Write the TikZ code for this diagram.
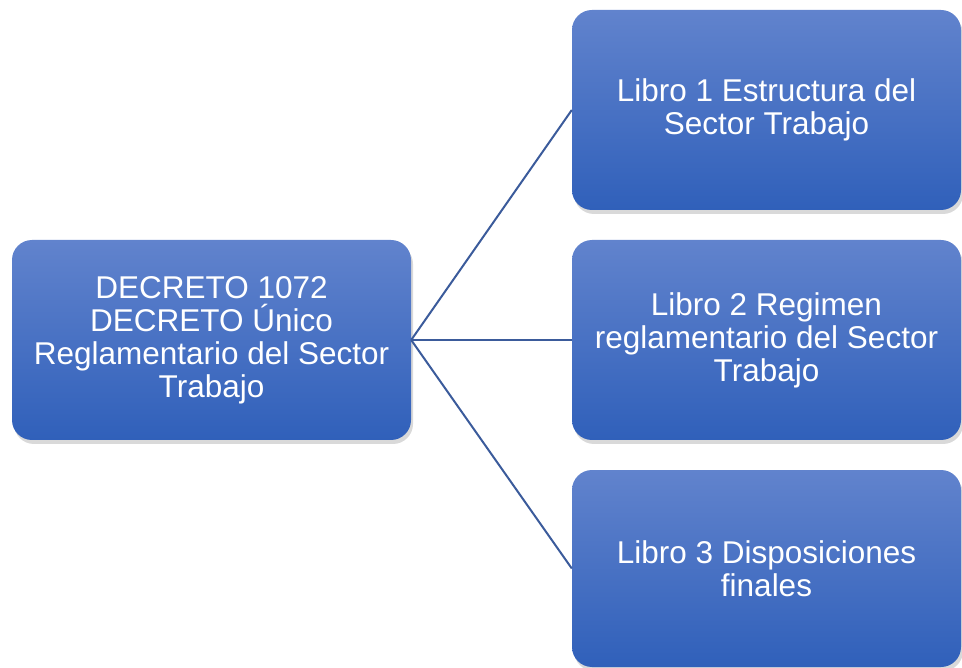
\documentclass[tikz,border=0pt]{standalone}
\usepackage{fontspec}
\setmainfont{Liberation Sans}
\usetikzlibrary{positioning,shadows}
\definecolor{boxtop}{HTML}{6183CD}
\definecolor{boxbot}{HTML}{3060BA}
\definecolor{linkblue}{HTML}{3B5B9B}

\begin{document}
\begin{tikzpicture}[x=1pt, y=-1pt, boxnode/.style={rectangle, rounded corners=20pt, top color=boxtop, bottom color=boxbot, minimum width=399pt, minimum height=200pt, text=white, align=center, font=\fontsize{31.5}{33}\selectfont, drop shadow={opacity=0.3, shadow xshift=2pt, shadow yshift=-4pt}}]
\useasboundingbox (0,0) rectangle (962,668);
% Nodes
\node[boxnode] (decreto) at (211.5,340) {DECRETO 1072\\DECRETO Único\\Reglamentario del Sector\\Trabajo};
\node[boxnode, minimum width=389pt] (libro1) at (766.5,110) {Libro 1 Estructura del\\Sector Trabajo};
\node[boxnode, minimum width=389pt] (libro2) at (766.5,340) {Libro 2 Regimen\\reglamentario del Sector\\Trabajo};
\node[boxnode, minimum width=389pt, minimum height=197pt] (libro3) at (766.5,568.5) {Libro 3 Disposiciones\\finales};
\draw[linkblue, line width=2pt] (decreto.east) -- (libro1.west);
\draw[linkblue, line width=2pt] (decreto.east) -- (libro2.west);
\draw[linkblue, line width=2pt] (decreto.east) -- (libro3.west);
\end{tikzpicture}
\end{document}
